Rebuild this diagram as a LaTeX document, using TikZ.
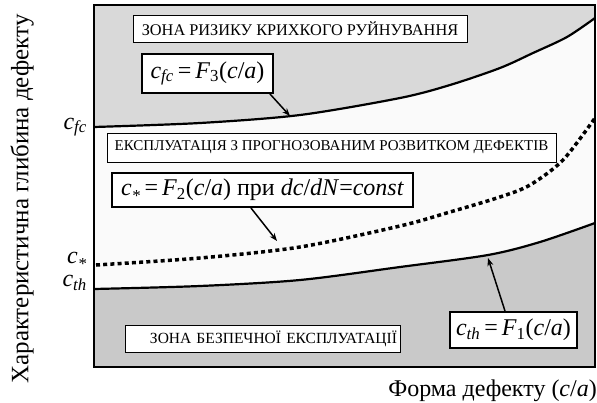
\documentclass[tikz,border=0pt]{standalone}
\usepackage{fontspec}
\setmainfont{Liberation Serif}
\usetikzlibrary{arrows.meta}
\definecolor{topgray}{HTML}{D9D9D9}
\definecolor{botgray}{HTML}{C9C9C9}
\definecolor{midwhite}{HTML}{FAFAFA}
\newcommand{\ci}[2]{\textit{#1}\textsubscript{\textit{#2}}}
\tikzset{
  zonebox/.style={draw=black, line width=0.8pt, fill=white, inner sep=0pt, font=\fontsize{15.5}{17}\selectfont},
  formbox/.style={draw=black, line width=2pt, fill=white, inner sep=0pt, font=\fontsize{24}{26}\selectfont},
  curve/.style={line width=2.2pt},
  pointer/.style={line width=1.5pt, -{Stealth[length=8pt,width=6pt]}},
  axislabel/.style={font=\fontsize{24}{26}\selectfont, inner sep=0pt},
  levellabel/.style={font=\fontsize{24}{26}\selectfont, inner sep=0pt, anchor=east}
}
\begin{document}
\begin{tikzpicture}[x=1pt,y=-1pt]
\useasboundingbox (0,0) rectangle (597,402);
% regions
\fill[midwhite] (94,5) rectangle (595,367);
\fill[topgray] (94,5) -- plot[smooth] coordinates {(94,127) (200,123) (300,115) (400,98) (450,85) (500,68) (533,53) (567,37) (595,18)} -- (595,5) -- cycle;
\fill[botgray] (94,367) -- plot[smooth] coordinates {(94,289) (200,286) (300,280) (400,267) (488,255) (540,242) (595,223)} -- (595,367) -- cycle;
% curves
\draw[curve] plot[smooth] coordinates {(94,127) (200,123) (300,115) (400,98) (450,85) (500,68) (533,53) (567,37) (595,18)};
\draw[curve] plot[smooth] coordinates {(94,289) (200,286) (300,280) (400,267) (488,255) (540,242) (595,223)};
\draw[line width=3.5pt, dash pattern=on 4pt off 3.2pt] plot[smooth] coordinates {(96,265) (200,258) (300,247) (400,226) (450,212) (500,197) (530,185) (563,160) (595,118)};
% frame
\draw[line width=2.5pt] (94,5) rectangle (595,367);
% points on curves
\coordinate (c3) at (290,116);
\coordinate (c2) at (277,241);
\coordinate (c1) at (488,258);
% boxes
\node[zonebox, minimum width=334pt, minimum height=27pt, font=\fontsize{16.3}{18}\selectfont] (z1) at (300,28.5) {ЗОНА РИЗИКУ КРИХКОГО РУЙНУВАННЯ};
\node[formbox, minimum width=131pt, minimum height=39pt] (f3) at (207.5,73.5) {\ci{c}{fc}\,=\,\textit{F}\textsubscript{3}(\textit{c}/\textit{a})};
\node[zonebox, minimum width=449pt, minimum height=29pt, font=\fontsize{15}{17}\selectfont] (z2) at (331.5,147.5) {ЕКСПЛУАТАЦІЯ З ПРОГНОЗОВАНИМ РОЗВИТКОМ ДЕФЕКТІВ};
\node[formbox, minimum width=301pt, minimum height=34pt] (f2) at (262.5,190) {\ci{c}{\raisebox{-0.3ex}{*}}\,=\,\textit{F}\textsubscript{2}(\textit{c}/\textit{a}) при \textit{dc}/\textit{dN}=\textit{const}};
\node[zonebox, minimum width=275pt, minimum height=27pt, text width=269pt, align=right] (z3) at (262.5,338.5) {ЗОНА БЕЗПЕЧНОЇ ЕКСПЛУАТАЦІЇ};
\node[formbox, minimum width=127pt, minimum height=36pt] (f1) at (513.5,330) {\ci{c}{th}\,=\,\textit{F}\textsubscript{1}(\textit{c}/\textit{a})};
% pointers
\draw[pointer] ([xshift=-4pt]f3.south east) -- (c3);
\draw[pointer] ([xshift=140pt]f2.south west) -- (c2);
\draw[pointer] ([xshift=-8.5pt]f1.north) -- (c1);
% level labels
\node[levellabel] (lfc) at (87,127) {\ci{c}{fc}};
\node[levellabel] (lst) at (87,261) {\ci{c}{\raisebox{-0.3ex}{*}}};
\node[levellabel] (lth) at (87,283) {\ci{c}{th}};
% axis labels
\node[axislabel, rotate=90, font=\fontsize{25}{27}\selectfont] (ylab) at (22,199) {Характеристична глибина дефекту};
\node[axislabel, anchor=east] (xlab) at (597,391) {Форма дефекту (\textit{c}/\textit{a})};
\end{tikzpicture}
\end{document}
